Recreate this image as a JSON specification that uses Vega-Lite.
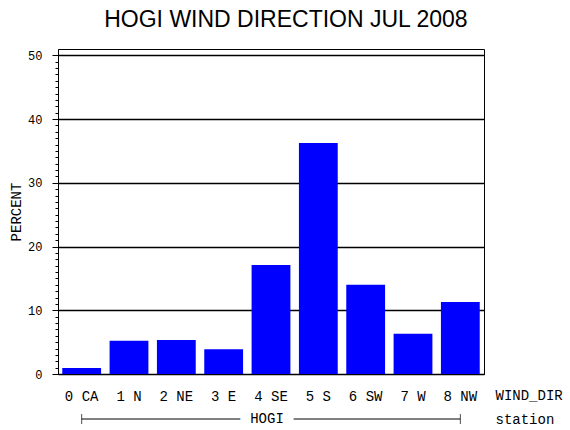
{
  "$schema": "https://vega.github.io/schema/vega-lite/v6.json",
  "background": "white",
  "padding": {"left": 9, "top": 8, "right": 2, "bottom": 2},
  "config": {
    "font": "Liberation Mono",
    "view": {"stroke": null},
    "axis": {
      "labelFont": "Liberation Mono",
      "titleFont": "Liberation Mono",
      "labelColor": "black",
      "titleColor": "black",
      "domainColor": "black",
      "tickColor": "black",
      "titleFontWeight": "normal"
    }
  },
  "title": {
    "text": "HOGI WIND DIRECTION JUL 2008",
    "font": "Liberation Sans",
    "fontSize": 23,
    "fontWeight": "normal",
    "color": "black",
    "anchor": "middle",
    "offset": 17
  },
  "datasets": {
    "wind": [
      {"wind_dir": "0 CA", "percent": 0.95},
      {"wind_dir": "1 N", "percent": 5.2},
      {"wind_dir": "2 NE", "percent": 5.35},
      {"wind_dir": "3 E", "percent": 3.9},
      {"wind_dir": "4 SE", "percent": 17.1},
      {"wind_dir": "5 S", "percent": 36.25},
      {"wind_dir": "6 SW", "percent": 14.0},
      {"wind_dir": "7 W", "percent": 6.3},
      {"wind_dir": "8 NW", "percent": 11.3}
    ],
    "station": [
      {"station": "HOGI", "first": "0 CA", "last": "8 NW", "mid": "4 SE"}
    ]
  },
  "spacing": 5,
  "vconcat": [
    {
      "width": 426,
      "height": 325,
      "view": {"stroke": "black", "strokeWidth": 1},
      "data": {"name": "wind"},
      "resolve": {"axis": {"y": "independent"}},
      "layer": [
        {
          "mark": {"type": "bar", "color": "#0000ff"},
          "encoding": {
            "x": {
              "field": "wind_dir",
              "type": "nominal",
              "sort": null,
              "scale": {
                "domain": ["0 CA", "1 N", "2 NE", "3 E", "4 SE", "5 S", "6 SW", "7 W", "8 NW"],
                "paddingInner": 0.18,
                "paddingOuter": 0.09
              },
              "axis": {
                "title": "WIND_DIR",
                "titleFontSize": 14,
                "titleAlign": "left",
                "titleAnchor": "start",
                "titleBaseline": "middle",
                "titleX": 437,
                "titleY": 21,
                "labelFontSize": 14,
                "labelAngle": 0,
                "labelBaseline": "middle",
                "labelPadding": 22,
                "ticks": false,
                "domain": true
              }
            },
            "y": {
              "field": "percent",
              "type": "quantitative",
              "scale": {"domain": [0, 51], "nice": false},
              "axis": {
                "orient": "left",
                "title": "PERCENT",
                "titleFontSize": 14,
                "titlePadding": 4,
                "values": [0, 10, 20, 30, 40, 50],
                "labelFontSize": 12,
                "labelPadding": 10,
                "tickSize": 6,
                "grid": true,
                "gridColor": "black",
                "gridOpacity": 1,
                "gridWidth": 1.5
              }
            }
          }
        },
        {
          "mark": {"type": "bar", "opacity": 0},
          "encoding": {
            "x": {"field": "wind_dir", "type": "nominal", "sort": null},
            "y": {
              "field": "percent",
              "type": "quantitative",
              "axis": {
                "orient": "left",
                "title": null,
                "labels": false,
                "domain": false,
                "grid": false,
                "tickSize": 3,
                "values": [1, 2, 3, 4, 5, 6, 7, 8, 9, 11, 12, 13, 14, 15, 16, 17, 18, 19, 21, 22, 23, 24, 25, 26, 27, 28, 29, 31, 32, 33, 34, 35, 36, 37, 38, 39, 41, 42, 43, 44, 45, 46, 47, 48, 49]
              }
            }
          }
        }
      ]
    },
    {
      "width": 426,
      "height": 20,
      "data": {"name": "station"},
      "encoding": {
        "y": {"field": "station", "type": "nominal", "axis": null}
      },
      "layer": [
        {
          "mark": {"type": "rule", "color": "black", "strokeWidth": 1},
          "encoding": {
            "x": {
              "field": "first",
              "type": "nominal",
              "bandPosition": 0.5,
              "scale": {
                "domain": ["0 CA", "1 N", "2 NE", "3 E", "4 SE", "5 S", "6 SW", "7 W", "8 NW"],
                "paddingInner": 0.18,
                "paddingOuter": 0.09
              },
              "axis": {
                "title": "station",
                "titleFontSize": 14,
                "titleAlign": "left",
                "titleAnchor": "start",
                "titleBaseline": "middle",
                "titleX": 437,
                "titleY": -10,
                "labels": false,
                "ticks": false,
                "domain": false
              }
            },
            "x2": {"field": "last", "bandPosition": 0.5}
          }
        },
        {
          "mark": {"type": "tick", "orient": "vertical", "color": "black", "thickness": 1, "size": 10},
          "encoding": {
            "x": {"field": "first", "type": "nominal", "bandPosition": 0.5}
          }
        },
        {
          "mark": {"type": "tick", "orient": "vertical", "color": "black", "thickness": 1, "size": 10},
          "encoding": {
            "x": {"field": "last", "type": "nominal", "bandPosition": 0.5}
          }
        },
        {
          "mark": {"type": "text", "fontSize": 14, "color": "white", "stroke": "white", "strokeWidth": 22, "baseline": "middle", "dx": -4},
          "encoding": {
            "x": {"field": "mid", "type": "nominal", "bandPosition": 0.5},
            "text": {"field": "station"}
          }
        },
        {
          "mark": {"type": "text", "fontSize": 14, "color": "black", "baseline": "middle", "dx": -4},
          "encoding": {
            "x": {"field": "mid", "type": "nominal", "bandPosition": 0.5},
            "text": {"field": "station"}
          }
        }
      ]
    }
  ]
}
